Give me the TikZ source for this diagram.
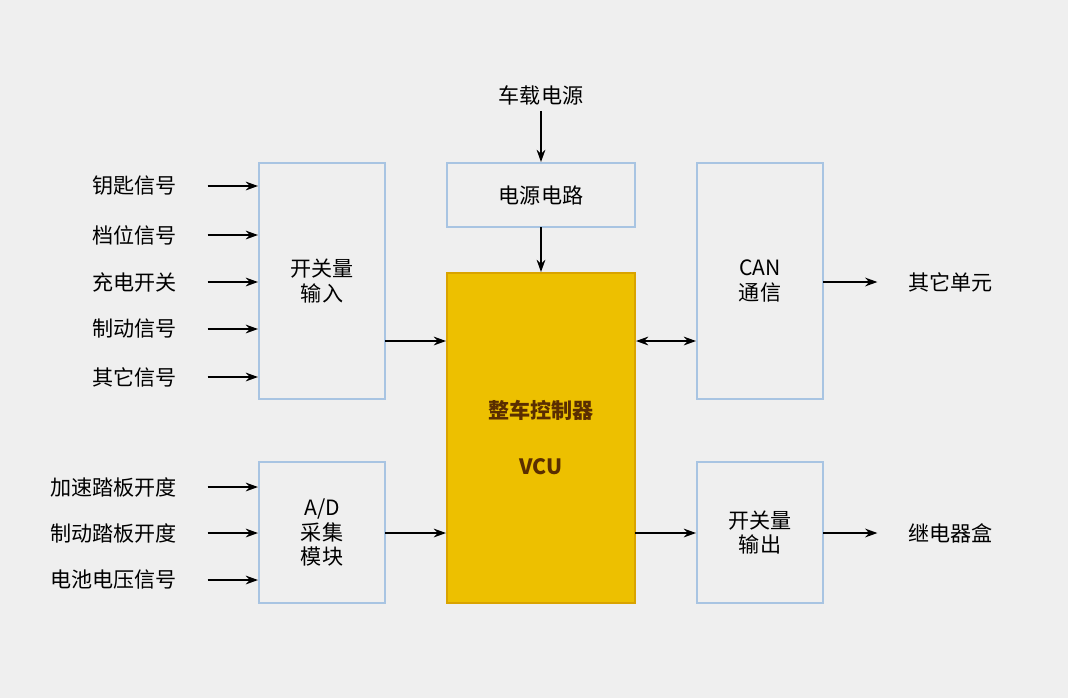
\documentclass[tikz,border=0pt]{standalone}
\usepackage{fontspec}
\setmainfont{Noto Sans CJK SC}
\usetikzlibrary{arrows.meta}
\definecolor{bg}{HTML}{EFEFEF}
\definecolor{edge}{HTML}{A8C4E2}
\definecolor{vcufill}{HTML}{EDC000}
\definecolor{vcuedge}{HTML}{D9A300}
\definecolor{vcutext}{HTML}{5A2E00}
\tikzset{
  blk/.style={draw=edge,fill=bg,line width=0.8pt,align=center,font=\large},
  lbl/.style={font=\large,anchor=east},
  arr/.style={-{Stealth[length=7pt,width=5pt]},line width=0.9pt}
}
\begin{document}
\begin{tikzpicture}[x=0.02cm,y=-0.02cm]
\useasboundingbox[fill=bg] (0,0) rectangle (1068,698);
% blocks
\draw[blk] (259,163) rectangle (385,399) node[midway] (in) {开关量\\输入};
\draw[blk] (447,163) rectangle (635,227) node[midway] (pw) {电源电路};
\draw[blk] (697,163) rectangle (823,399) node[midway] (can) {CAN\\通信};
\draw[blk] (259,462) rectangle (385,603) node[midway] (ad) {A/D\\采集\\模块};
\draw[blk] (697,462) rectangle (823,603) node[midway] (out) {开关量\\输出};
\draw[draw=vcuedge,fill=vcufill,line width=0.8pt] (447,273) rectangle (635,603);
\node[font=\large\bfseries,text=vcutext] (vcu1) at (541,410) {整车控制器};
\node[font=\large\bfseries,text=vcutext] (vcu2) at (541,467) {VCU};
% inputs
\foreach \t/\y in {钥匙信号/186,档位信号/235,充电开关/282,制动信号/329,其它信号/377,
                   加速踏板开度/487,制动踏板开度/533,电池电压信号/580}
{
  \node[lbl] (s) at (183,\y) {\t};
  \coordinate (e) at (258,\y);
  \draw[arr] ([xshift=14] s.east) -- (e);
}
\node (src) at (541,95) {\large 车载电源};
\coordinate (pwtop) at (541,162);
\draw[arr] (src.south) -- (pwtop);
\coordinate (pwb) at (541,227);
\coordinate (vt) at (541,272);
\draw[arr] (pwb) -- (vt);
% links
\coordinate (a1) at (385,341); \coordinate (a2) at (446,341);
\draw[arr] (a1) -- (a2);
\coordinate (b1) at (385,533); \coordinate (b2) at (446,533);
\draw[arr] (b1) -- (b2);
\coordinate (c1) at (636,341); \coordinate (c2) at (696,341);
\draw[{Stealth[length=7pt,width=5pt]}-{Stealth[length=7pt,width=5pt]},line width=0.9pt] (c1) -- (c2);
\coordinate (d1) at (635,533); \coordinate (d2) at (696,533);
\draw[arr] (d1) -- (d2);
\node[anchor=west,font=\large] (oth) at (902,282) {其它单元};
\coordinate (f1) at (823,282);
\draw[arr] (f1) -- ([xshift=-14] oth.west);
\node[anchor=west,font=\large] (rel) at (902,533) {继电器盒};
\coordinate (g1) at (823,533);
\draw[arr] (g1) -- ([xshift=-14] rel.west);
\end{tikzpicture}
\end{document}
